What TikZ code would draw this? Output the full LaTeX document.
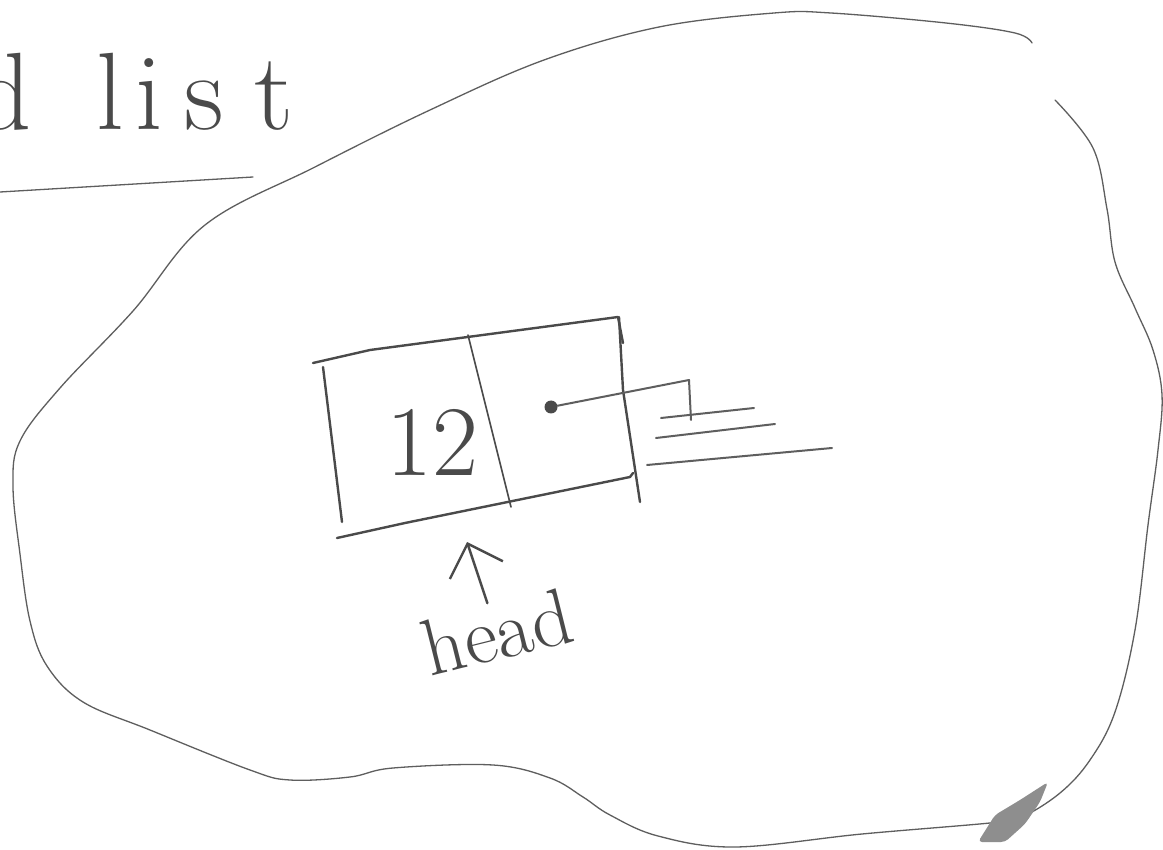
\documentclass[tikz,border=0pt]{standalone}
\usepackage{fontspec}
\usetikzlibrary{arrows.meta}
\definecolor{PencilGrey}{HTML}{5E5E5E}
\definecolor{PencilDark}{HTML}{4A4A4A}

\begin{document}
\begin{tikzpicture}[x=1pt,y=-1pt,
    pencil/.style={draw=PencilGrey,line width=1.3pt,line cap=round,line join=round},
    ink/.style={draw=PencilDark,line width=2.4pt,line cap=round,line join=round},
    scrawl/.style={inner sep=0pt,text=PencilDark},
    ptr/.style={ink,-{Straight Barb[length=28pt,width=56pt]}}]
  \useasboundingbox (0,0) rectangle (1163,850);
  \fill[white] (0,0) rectangle (1163,850);
  \node[scrawl,anchor=base west,font=\fontsize{110}{110}\selectfont] (title) at (-25,130)
    {d\hspace{32pt} l\hspace{11pt}i\hspace{22pt}s\hspace{30pt}t};
  \draw[pencil] (0,192) -- (253,177);
  \draw[pencil] plot[smooth,tension=0.6] coordinates {(1055,100) (1093,148) (1107,209) (1115,262)
    (1135,308) (1153,350) (1162,395) (1158,450) (1148,525) (1135,630) (1115,712) (1090,760)
    (1060,793) (1020,818) (990,823) (862,834) (735,847) (658,836) (610,815) (583,797) (550,778)
    (493,765) (393,768) (350,777) (290,780) (250,770) (150,730) (83,702) (47,666) (30,621)
    (20,554) (13,486) (20,441) (60,388) (133,311) (205,225) (315,167) (430,110) (544,60)
    (659,27) (774,13) (831,13) (946,23) (1015,33) (1032,43)};
  \fill[PencilGrey!70,rounded corners=4pt] (978,842) -- (995,815) -- (1020,800) -- (1048,782)
    -- (1040,802) -- (1025,824) -- (1005,842) -- cycle;
  \draw[ink] (313,363) -- (370,350) -- (618,317) -- (623,343);
  \draw[ink] (323,367) -- (342,522);
  \draw[ink] (619,317) -- (623,390) -- (640,502);
  \draw[ink] (337,538) -- (405,523) -- (630,477) -- (633,473);
  \draw[ink,line width=1.6pt] (468,335) -- (511,507);
  \node[scrawl,font=\fontsize{100}{100}\selectfont] (val) at (432,442) {12};
  \node[circle,fill=PencilDark,minimum size=13pt,inner sep=0pt] (nxt) at (551,407) {};
  \coordinate (bend) at (689,380);
  \coordinate (gnd) at (691,420);
  \draw[pencil,line width=2pt] (nxt) -- (bend) -- (gnd);
  \foreach \xa/\ya/\xb/\yb in {661/418/754/408,656/438/775/424,647/465/832/448}
    \draw[pencil,line width=2pt] (\xa,\ya) -- (\xb,\yb);
  \node[scrawl,rotate=14,inner sep=2pt,font=\fontsize{80}{80}\selectfont] (head) at (497,632) {head};
  \coordinate (htip) at (467,542);
  \draw[ptr] (head) -- (htip);
\end{tikzpicture}
\end{document}
